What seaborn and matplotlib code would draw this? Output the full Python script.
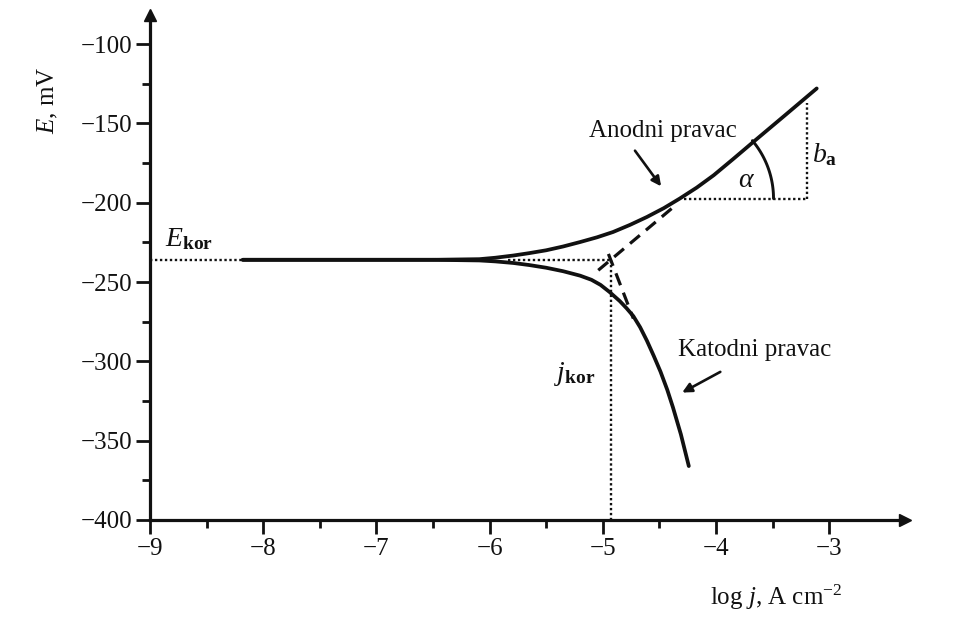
import numpy as np
import pandas as pd
import matplotlib
matplotlib.use("Agg")
import matplotlib.pyplot as plt
import seaborn as sns
from matplotlib.ticker import FixedLocator

# ---------------- data ----------------
E_kor = -236.0          # mV
logj_kor = -4.93        # log j at corrosion
b_anodic = 60.0         # mV/decade (anodic Tafel slope)
b_cathodic = -185.0     # mV/decade (cathodic Tafel slope)

anodic_x = [-8.18, -7.5, -7.0, -6.5, -6.09, -5.95, -5.79, -5.65, -5.50, -5.35, -5.20, -5.05,
            -4.91, -4.76, -4.61, -4.46, -4.32, -4.17, -4.02, -3.85, -3.67, -3.40, -3.11]
anodic_E = [-236, -236, -236, -236, -235.6, -234.7, -233.3, -231.8, -230.0, -227.6, -224.8, -221.8,
            -218.5, -214.0, -209.0, -203.4, -197.4, -190.5, -182.7, -172.6, -161.7, -145.5, -128.0]

cathodic_x = [-8.18, -7.5, -7.0, -6.5, -6.09, -5.95, -5.79, -5.65, -5.50, -5.35, -5.20, -5.10,
              -5.02, -4.94, -4.85, -4.79, -4.73, -4.67, -4.61, -4.55, -4.49, -4.43, -4.38,
              -4.31, -4.24]
cathodic_E = [-236, -236, -236, -236, -236.4, -237.0, -238.0, -239.3, -241.0, -243.2, -246.0, -248.6,
              -251.8, -256.3, -262.0, -266.5, -271.5, -278.5, -287.0, -296.5, -306.5, -318.0, -329.0,
              -346.0, -366.0]

anodic_tafel_x = [-5.04, -4.35]
cathodic_tafel_x = [-4.95, -4.73]

ba_left_E = -197.4      # horizontal leg of the b_a triangle
ba_right_x = -3.20      # vertical leg of the b_a triangle
ba_top_E = -137.0

x_ticks = [-9, -8, -7, -6, -5, -4, -3]
y_ticks = [-400, -350, -300, -250, -200, -150, -100]
x_minor = [-8.5, -7.5, -6.5, -5.5, -4.5, -3.5]
y_minor = [-375, -325, -275, -225, -175, -125]

# ---------------- style ----------------
sns.set_theme(style="ticks")
plt.rcParams["font.family"] = ["Liberation Serif", "DejaVu Serif"]
plt.rcParams["mathtext.fontset"] = "custom"
plt.rcParams["mathtext.rm"] = "Liberation Serif"
plt.rcParams["mathtext.it"] = "Liberation Serif:italic"
plt.rcParams["mathtext.bf"] = "Liberation Serif:bold"
plt.rcParams["lines.solid_capstyle"] = "round"

fig = plt.figure(figsize=(9.54, 6.2), dpi=100)
fig.patch.set_facecolor("white")
ax = fig.add_axes([150 / 954, 100 / 620, 755 / 954, 505 / 620])
ax.set_facecolor("white")
ax.set_xlim(-9, -2.33)
ax.set_ylim(-400, -81.7)

ink = "#111111"

# main curves
df_a = pd.DataFrame({"x": anodic_x, "E": anodic_E})
df_c = pd.DataFrame({"x": cathodic_x, "E": cathodic_E})
sns.lineplot(data=df_a, x="x", y="E", ax=ax, color=ink, lw=2.7, sort=False, estimator=None)
sns.lineplot(data=df_c, x="x", y="E", ax=ax, color=ink, lw=2.7, sort=False, estimator=None)

# Tafel extrapolations (dashed)
atx = np.array(anodic_tafel_x)
ctx = np.array(cathodic_tafel_x)
sns.lineplot(x=atx, y=E_kor + b_anodic * (atx - logj_kor), ax=ax, color=ink, lw=2.3,
             linestyle=(0, (4, 2.5)))
sns.lineplot(x=ctx, y=E_kor + b_cathodic * (ctx - logj_kor), ax=ax, color=ink, lw=2.3,
             linestyle=(0, (4, 2.5)))

dot = dict(color=ink, lw=1.7, linestyle=(0, (1, 1.1)))
# E_kor dotted lines
ax.plot([-9, anodic_x[0]], [E_kor, E_kor], **dot)
ax.plot([-5.84, logj_kor], [E_kor, E_kor], **dot)
# j_kor vertical dotted line
ax.plot([logj_kor, logj_kor], [E_kor, -400], **dot)

# b_a triangle
x_start = logj_kor + (ba_left_E - E_kor) / b_anodic
ax.plot([x_start, ba_right_x], [ba_left_E, ba_left_E], **dot)
ax.plot([ba_right_x, ba_right_x], [ba_left_E, ba_top_E], **dot)

# angle arc alpha (circle in pixel space)
fig.canvas.draw()
cx, cy = ax.transData.transform((x_start, ba_left_E))
p2 = ax.transData.transform((x_start + 1, ba_left_E + b_anodic))
ang = np.arctan2(p2[1] - cy, p2[0] - cx)
t = np.linspace(0, ang, 40)
r = 90
pts = np.column_stack([cx + r * np.cos(t), cy + r * np.sin(t)])
arc = ax.transData.inverted().transform(pts)
ax.plot(arc[:, 0], arc[:, 1], color=ink, lw=2.1)

# texts
fs_lab = 18
ax.text(-4.47, -154.9, "Anodni pravac", ha="center", va="center", fontsize=fs_lab, color=ink)
ax.annotate("", xy=(-4.47, -191.1), xytext=(-4.73, -165.8),
            arrowprops=dict(arrowstyle="-|>", color=ink, lw=1.9, mutation_scale=14))
ax.text(-3.66, -292.6, "Katodni pravac", ha="center", va="center", fontsize=fs_lab, color=ink)
ax.annotate("", xy=(-4.32, -320.5), xytext=(-3.94, -305.8),
            arrowprops=dict(arrowstyle="-|>", color=ink, lw=1.9, mutation_scale=14))
ax.text(-3.73, -186, r"$\alpha$", ha="center", va="center", fontsize=20, color=ink)
ax.text(-3.15, -170, r"$b_{\mathbf{a}}$", ha="left", va="center", fontsize=20, color=ink)
ax.text(-8.87, -231, r"$E_{\mathbf{kor}}$", ha="left", va="bottom", fontsize=20, color=ink)
ax.text(-5.25, -307.7, r"$j_{\mathbf{kor}}$", ha="center", va="center", fontsize=20, color=ink)

ax.text(-0.135, 0.831, r"$E$, mV", transform=ax.transAxes, rotation=90,
        ha="center", va="center", fontsize=18, color=ink)
ax.text(0.829, -0.154, r"log $j$, A cm$^{-2}$", transform=ax.transAxes,
        ha="center", va="center", fontsize=18, color=ink)

# axes
ax.xaxis.set_major_locator(FixedLocator(x_ticks))
ax.yaxis.set_major_locator(FixedLocator(y_ticks))
ax.xaxis.set_minor_locator(FixedLocator(x_minor))
ax.yaxis.set_minor_locator(FixedLocator(y_minor))
ax.set_xticklabels([f"\u2212{abs(v)}" for v in x_ticks])
ax.set_yticklabels([f"\u2212{abs(v)}" for v in y_ticks])
ax.tick_params(axis="both", which="major", length=10, width=2, color=ink,
               labelsize=18, labelcolor=ink, direction="out", pad=3)
ax.tick_params(axis="both", which="minor", length=6, width=2, color=ink, direction="out")
ax.set_xlabel("")
ax.set_ylabel("")
for s in ["top", "right"]:
    ax.spines[s].set_visible(False)
for s in ["left", "bottom"]:
    ax.spines[s].set_linewidth(2.3)
    ax.spines[s].set_color(ink)
ax.plot(1, 0, marker=">", color=ink, ms=9, transform=ax.transAxes, clip_on=False)
ax.plot(0, 1, marker="^", color=ink, ms=9, transform=ax.transAxes, clip_on=False)

fig.savefig("out.png", dpi=100, facecolor="white")
